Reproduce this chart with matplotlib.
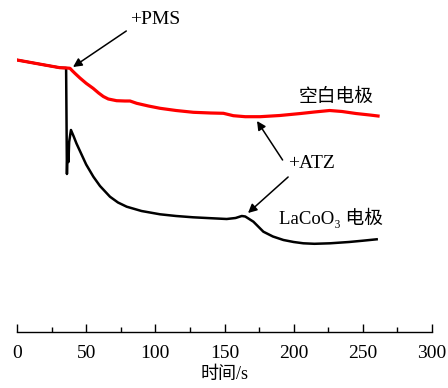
import matplotlib
matplotlib.use("Agg")
import matplotlib.pyplot as plt
from matplotlib.ticker import MultipleLocator

# Open-circuit signal (arbitrary units) vs time for the two electrodes
t_blank = [0, 10, 20, 31, 36, 38.3, 40, 42, 45.5, 50, 55, 59, 62.4, 66, 72, 78,
           81.7, 86.5, 95, 103.4, 115, 127.5, 140, 149.2, 156.4, 165, 175.7,
           190, 205, 215, 226, 235, 245, 255, 261]
v_blank = [272, 269.5, 267, 264.3, 264, 263.7, 261.2, 258.5, 254, 248.7, 243.7,
           239, 235.5, 233, 231.3, 231, 231, 228.7, 226, 223.7, 221.5, 219.7,
           219, 218.7, 216.3, 215.3, 215.3, 216.5, 218.5, 220, 221.5, 220.5,
           218.5, 217, 216]

t_laco = [0, 10, 20, 31, 35.5, 36.1, 36.5, 37.2, 37.7, 39.0, 41, 43, 45.5, 50,
          55.2, 60, 67.2, 73, 79.3, 90, 103.4, 115, 127.3, 140, 151.6, 158,
          162.5, 165, 170.9, 178.1, 185, 192.6, 200, 207, 215, 226.3, 240, 250,
          260]
v_laco = [272, 269.5, 267, 264.3, 264, 158, 182, 170, 190, 202, 195.5, 188.5,
          181, 167.5, 155.3, 146, 135.3, 129.5, 125.3, 121, 117.7, 116, 114.7,
          113.8, 113, 114, 116, 115.5, 110.3, 100.3, 95.5, 92, 90, 88.7, 88.2,
          88.7, 90, 91.3, 92.7]

x_ticks = [0, 50, 100, 150, 200, 250, 300]

serif = ["Liberation Serif", "DejaVu Serif", "Noto Sans CJK SC"]

fig = plt.figure(figsize=(4.48, 3.88), dpi=100)
ax = fig.add_axes([17 / 448, 56 / 388, 415 / 448, 332 / 388])

ax.plot(t_laco, v_laco, color="black", lw=1.8, solid_joinstyle="round")
ax.plot(t_blank, v_blank, color="#ff0000", lw=2.3, solid_joinstyle="round")

ax.set_xlim(0, 300)
ax.set_ylim(0, 332)
for s in ("top", "left", "right"):
    ax.spines[s].set_visible(False)
ax.spines["bottom"].set_linewidth(1.0)
ax.set_yticks([])
ax.set_xticks(x_ticks)
ax.xaxis.set_minor_locator(MultipleLocator(25))
ax.tick_params(axis="x", which="major", direction="in", length=6, width=1,
               labelsize=14, pad=9)
ax.tick_params(axis="x", which="minor", direction="in", length=3.5, width=1)
for lab in ax.get_xticklabels():
    lab.set_family(serif)
ax.set_xlabel("时间/s", family=serif, fontsize=13, labelpad=3)

arrow = dict(arrowstyle="-|>", color="black", lw=1.1, mutation_scale=13,
             shrinkA=0, shrinkB=0)
ax.annotate("", xy=(40.5, 265), xytext=(79, 301), arrowprops=arrow)
ax.annotate("", xy=(173.5, 211), xytext=(192, 172), arrowprops=arrow)
ax.annotate("", xy=(167, 119), xytext=(196, 155), arrowprops=arrow)

ax.text(100, 312, "+PMS", family=serif, fontsize=14, ha="center", va="center")
ax.text(213, 168, "+ATZ", family=serif, fontsize=14, ha="center", va="center")
ax.text(230.5, 235, "空白电极", family=serif, fontsize=13.5, ha="center",
        va="center")
ax.text(227, 114, "LaCoO₃ 电极", family=serif, fontsize=13.5, ha="center",
        va="center")

fig.savefig("out.png", dpi=100)
